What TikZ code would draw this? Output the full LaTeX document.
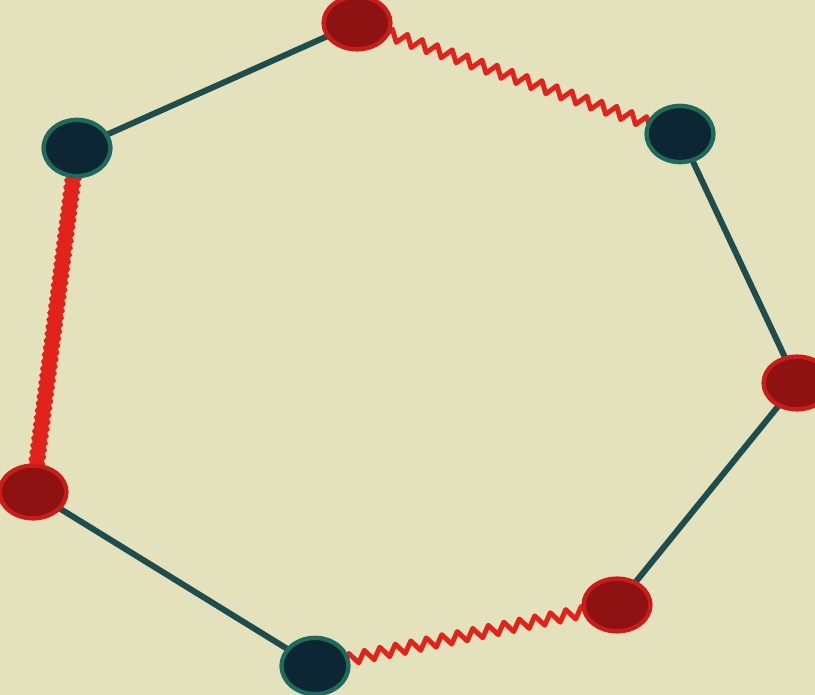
\documentclass[tikz,border=0pt]{standalone}
\usetikzlibrary{shapes.geometric,decorations.pathmorphing}

\definecolor{paper}{HTML}{E4E2BC}
\definecolor{inkteal}{HTML}{1F4C4C}
\definecolor{dotteal}{HTML}{0C2733}
\definecolor{rimteal}{HTML}{1E6A5C}
\definecolor{inkred}{HTML}{E2231C}
\definecolor{dotred}{HTML}{8E1212}
\definecolor{rimred}{HTML}{C81E1A}

\begin{document}
\begin{tikzpicture}[x=0.02cm,y=-0.02cm,
  plain/.style={draw=inkteal,line width=3.4pt,line cap=round},
  wiggly/.style={draw=inkred,line width=2.8pt,line join=round,
    decorate,decoration={zigzag,amplitude=3.2pt,segment length=9pt}},
  thickred/.style={draw=inkred,line width=7.5pt,line cap=round,
    decorate,decoration={zigzag,amplitude=0.6pt,segment length=4pt}},
  tealdot/.style={ellipse,fill=dotteal,draw=rimteal,line width=2.5pt,
    minimum width=38,minimum height=32,inner sep=0pt},
  reddot/.style={ellipse,fill=dotred,draw=rimred,line width=2.5pt,
    minimum width=38,minimum height=30,inner sep=0pt}]
\useasboundingbox (0,0) rectangle (815,695);
\fill[paper] (0,0) rectangle (815,695);
% corners of the heptagon
\coordinate (top) at (357,23);
\coordinate (ur) at (680,134);
\coordinate (r) at (797,383);
\coordinate (lr) at (617,605);
\coordinate (b) at (315,666);
\coordinate (ll) at (33,492);
\coordinate (ul) at (77,148);
% sides
\draw[wiggly] (top) -- (ur);
\draw[plain] (ur) -- (r);
\draw[plain] (r) -- (lr);
\draw[wiggly] (b) -- (lr);
\draw[plain] (b) -- (ll);
\draw[thickred] (ul) -- (ll);
\draw[plain] (ul) -- (top);
% dots
\node[reddot] (ntop) at (top) {};
\node[tealdot] (nur) at (ur) {};
\node[reddot] (nr) at (r) {};
\node[reddot] (nlr) at (lr) {};
\node[tealdot] (nb) at (b) {};
\node[reddot] (nll) at (ll) {};
\node[tealdot] (nul) at (ul) {};
\end{tikzpicture}
\end{document}
